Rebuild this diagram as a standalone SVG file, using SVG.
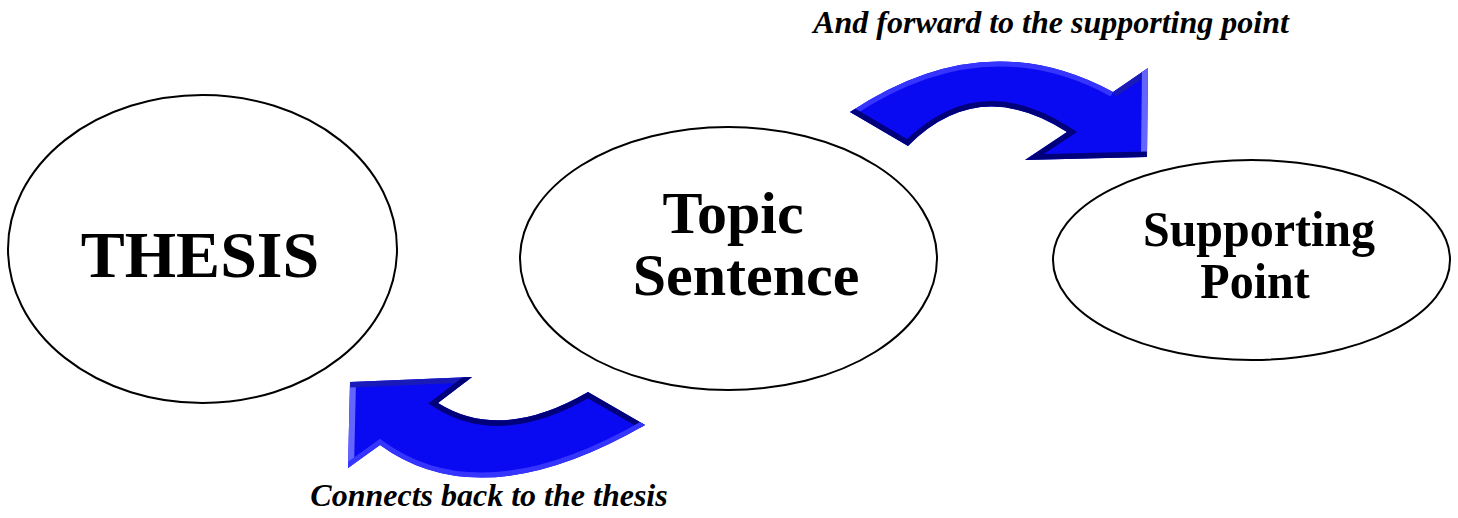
<svg xmlns="http://www.w3.org/2000/svg" width="1458" height="518" viewBox="0 0 1458 518">
<style>
.node{fill:#fff;stroke:#000;stroke-width:2}
.big{font-family:"Liberation Serif","Times New Roman",serif;font-weight:bold;fill:#000;text-anchor:middle}
.lbl{font-family:"Liberation Serif","Times New Roman",serif;font-weight:bold;font-style:italic;font-size:32px;fill:#000;text-anchor:middle}
.face{fill:#0a0af2}
.dark{fill:none;stroke:#00007a;stroke-width:11}
.mid{fill:none;stroke:#1a1ab8;stroke-width:11}
.light{fill:none;stroke:#6464ff;stroke-width:12}
.soft{fill:none;stroke:#3535ff;stroke-width:10}
</style>
<defs>
<clipPath id="clipTop"><path id="topShape" d="M850,112 Q984.5,22 1113,92 L1148,68 L1147,157 L1025,160 L1067,132 Q978.5,75 908,146 Z"/></clipPath>
<clipPath id="clipBot"><path id="botShape" d="M350,382 L472,377 L438,403 Q501,442.5 588,392 L645,425 Q481.5,519 380,445 L348,468 Z"/></clipPath>
</defs>
<rect width="1458" height="518" fill="#fff"/>
<g id="thesis">
<ellipse class="node" cx="202.5" cy="249" rx="194.5" ry="154"/>
<text class="big" x="200" y="277" font-size="66">THESIS</text>
</g>
<g id="topic-sentence">
<ellipse class="node" cx="728.5" cy="258.5" rx="208.5" ry="131.5"/>
<text class="big" x="733" y="233" font-size="60">Topic</text>
<text class="big" x="746" y="295" font-size="60">Sentence</text>
</g>
<g id="supporting-point">
<ellipse class="node" cx="1251.5" cy="260" rx="198.5" ry="100"/>
<text class="big" font-size="48" transform="translate(1259,246) scale(1,1.06)">Supporting</text>
<text class="big" font-size="48" transform="translate(1255,298) scale(1,1.06)">Point</text>
</g>
<g id="connectors">
<g id="arrow-forward">
<use href="#topShape" class="face"/>
<g clip-path="url(#clipTop)">
<path class="soft" d="M850,112 Q984.5,22 1113,92"/>
<path class="mid" d="M1113,92 L1148,68"/>
<path class="light" d="M1148,68 L1147,157"/>
<path class="dark" d="M1147,157 L1025,160 L1067,132 Q978.5,75 908,146 L850,112"/>
</g>
</g>
<g id="arrow-back">
<use href="#botShape" class="face"/>
<g clip-path="url(#clipBot)">
<path class="light" d="M348,468 L350,382"/>
<path class="mid" d="M350,382 L472,377"/>
<path class="dark" d="M472,377 L438,403 Q501,442.5 588,392 L645,425"/>
<path class="soft" d="M645,425 Q481.5,519 380,445 L348,468"/>
</g>
</g>
<text class="lbl" x="1051" y="33">And forward to the supporting point</text>
<text class="lbl" x="489" y="506">Connects back to the thesis</text>
</g>
</svg>
